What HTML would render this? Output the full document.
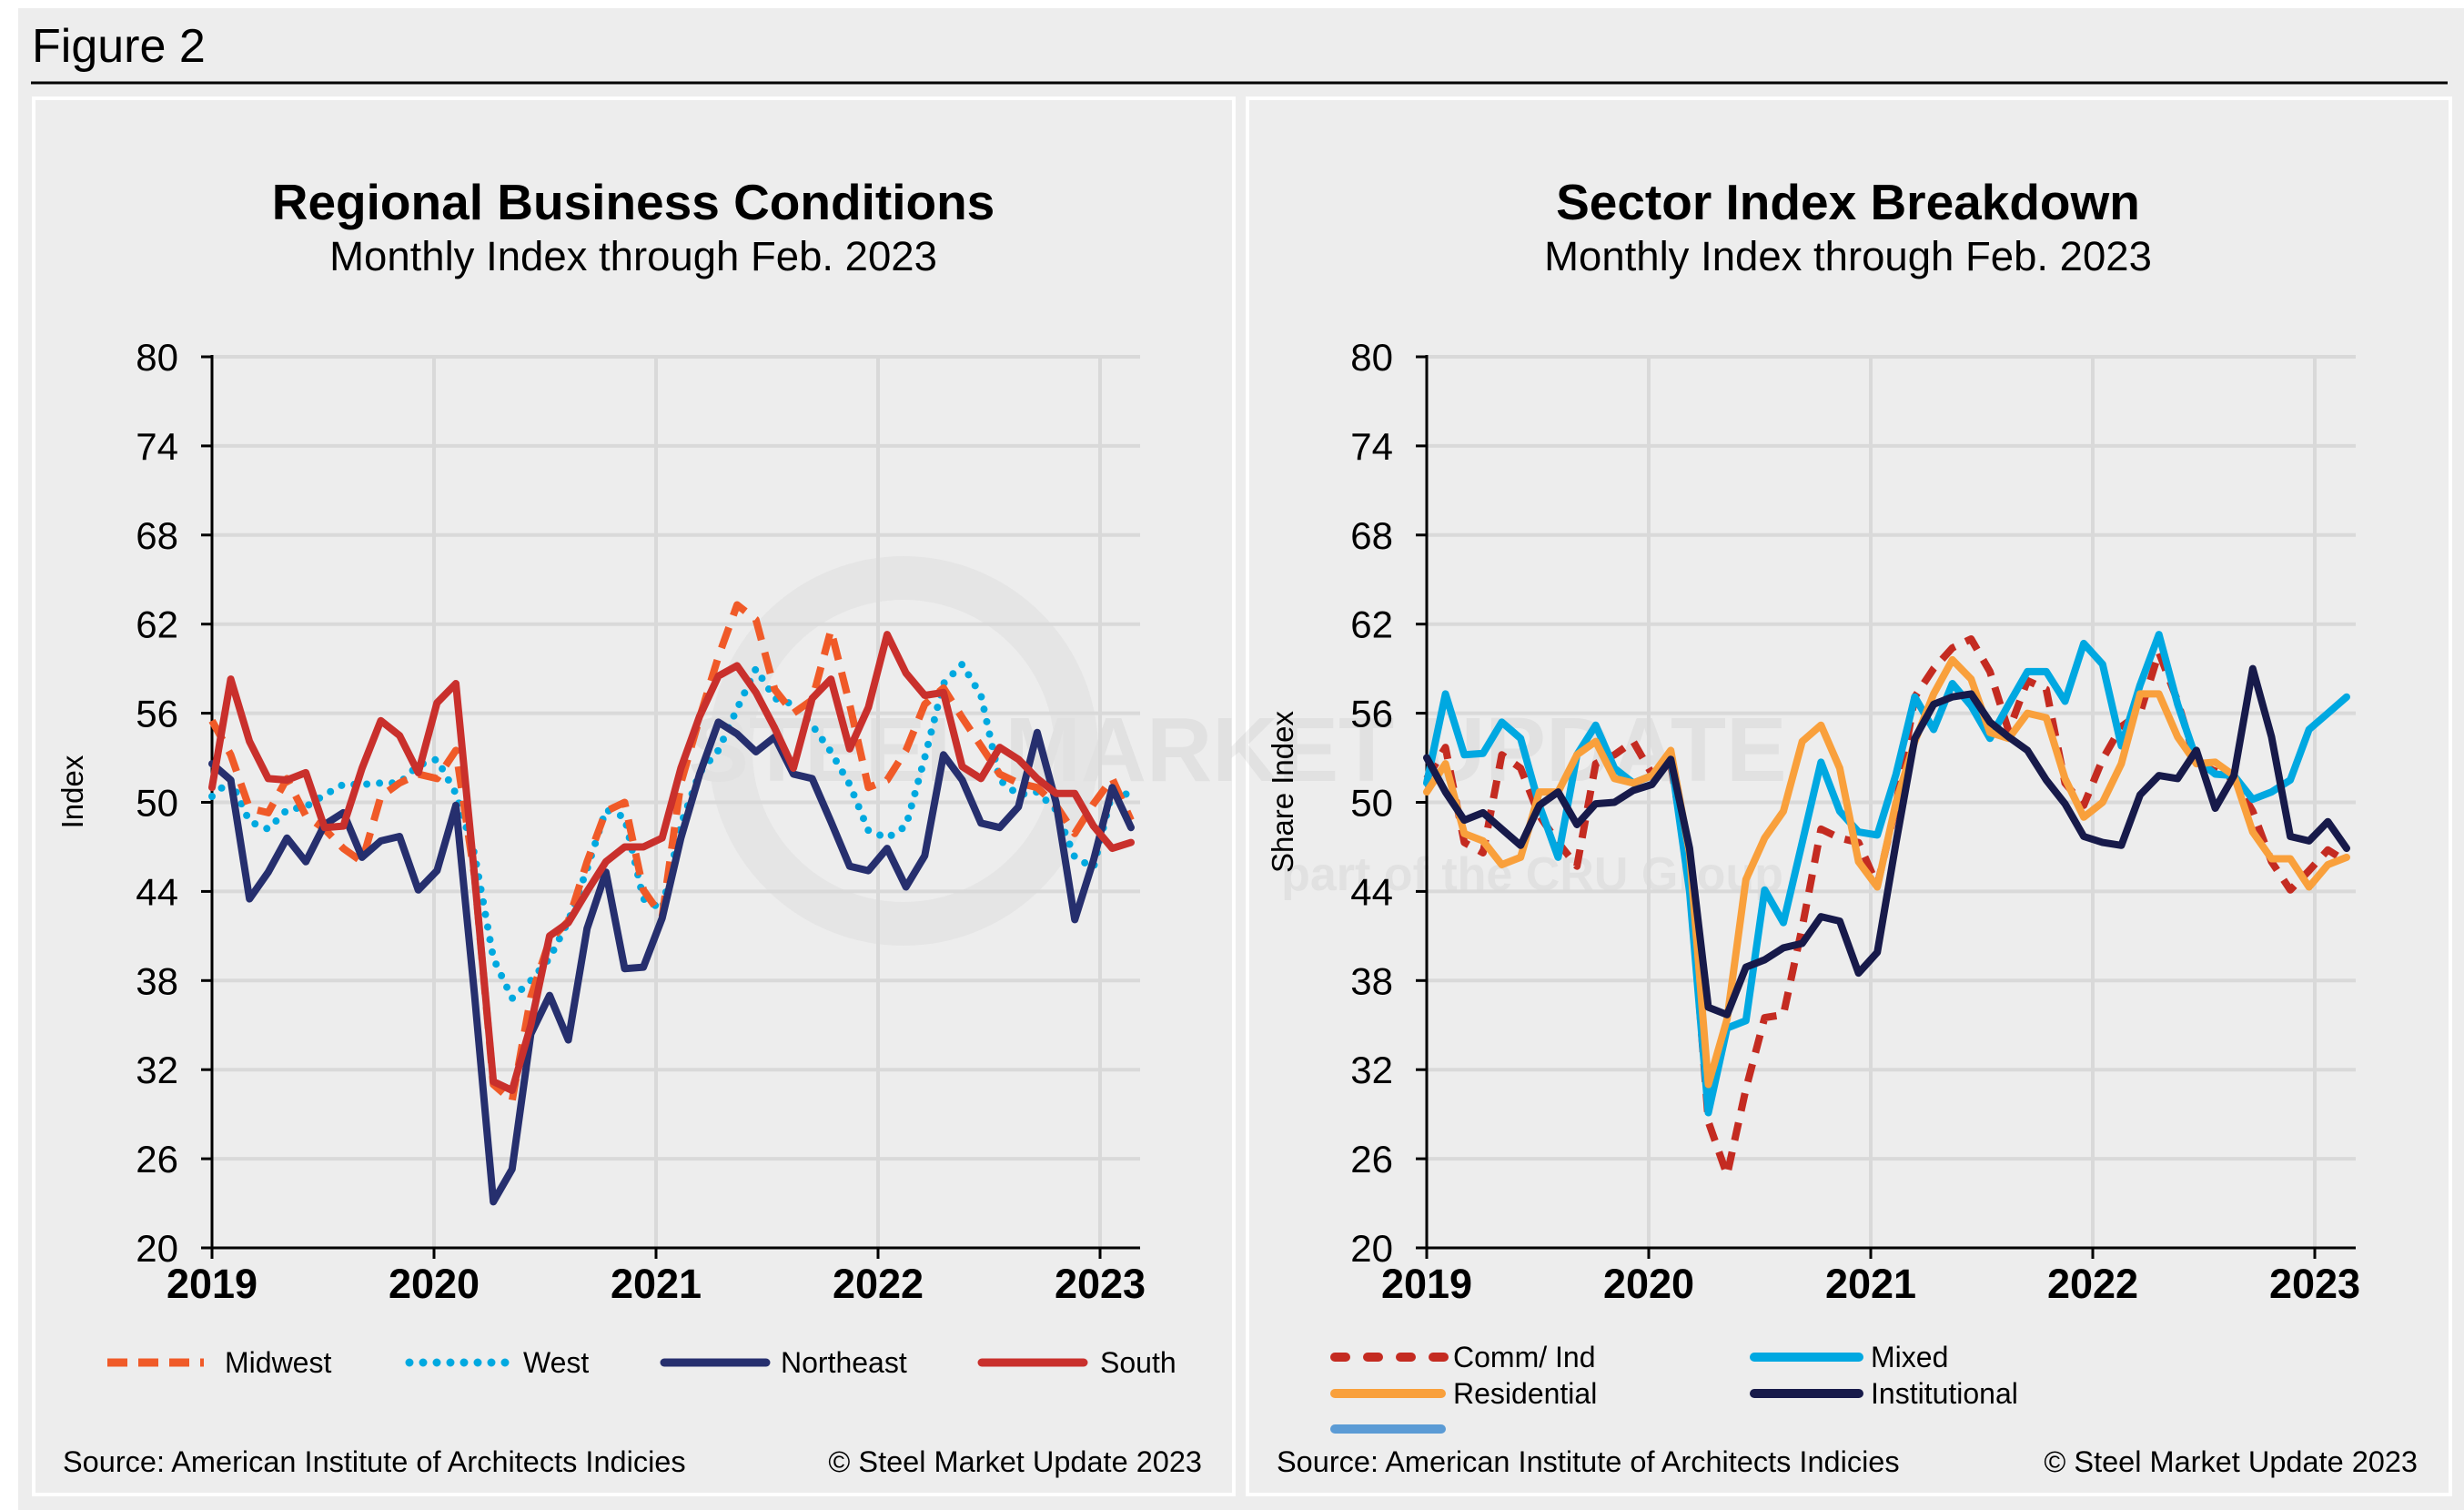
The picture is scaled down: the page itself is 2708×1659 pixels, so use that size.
<!DOCTYPE html>
<html><head><meta charset="utf-8"><style>
html,body{margin:0;padding:0;background:#fff;}
svg{display:block;font-family:"Liberation Sans",Arial,sans-serif;}
</style></head><body>
<svg id="fig" width="2708" height="1659" viewBox="0 0 2708 1659" xmlns="http://www.w3.org/2000/svg">
<rect x="20" y="9" width="2688" height="1650" fill="#ededed"/>
<text x="35" y="68" font-size="52" fill="#000">Figure 2</text>
<line x1="34" y1="91" x2="2690" y2="91" stroke="#000" stroke-width="3"/>
<rect x="37" y="108" width="1319" height="1534" fill="#ededed" stroke="#fff" stroke-width="4"/>
<rect x="1371" y="108" width="1322" height="1534" fill="#ededed" stroke="#fff" stroke-width="4"/>
<g opacity="0.15">
<circle cx="993" cy="825" r="190" fill="none" stroke="#bdbdbd" stroke-width="48"/>
<text x="1360" y="858" font-size="100" text-anchor="middle" fill="#a0a0a0" font-weight="bold">STEEL MARKET UPDATE</text>
<text x="1684" y="978" font-size="52" text-anchor="middle" fill="#a0a0a0" font-weight="bold">part of the CRU Group</text>
</g>
<text x="696" y="241" font-size="55" font-weight="bold" text-anchor="middle">Regional Business Conditions</text>
<text x="696" y="297" font-size="45.5" text-anchor="middle">Monthly Index through Feb. 2023</text>
<text x="2031" y="241" font-size="55" font-weight="bold" text-anchor="middle">Sector Index Breakdown</text>
<text x="2031" y="297" font-size="45.5" text-anchor="middle">Monthly Index through Feb. 2023</text>
<text transform="translate(91,870) rotate(-90)" font-size="33" text-anchor="middle">Index</text>
<text transform="translate(1421,870) rotate(-90)" font-size="33" text-anchor="middle">Share Index</text>
<g id="left"></g>
<g id="right"></g>
<g>
<line x1="118" y1="1497" x2="224" y2="1497" stroke="#f05a28" stroke-width="9" stroke-dasharray="22 12"/>
<text x="247" y="1508" font-size="32">Midwest</text>
<line x1="450" y1="1497" x2="558" y2="1497" stroke="#00a9e0" stroke-width="9" stroke-linecap="round" stroke-dasharray="0 15"/>
<text x="575" y="1508" font-size="32">West</text>
<line x1="730" y1="1497" x2="842" y2="1497" stroke="#262f6e" stroke-width="9" stroke-linecap="round"/>
<text x="858" y="1508" font-size="32">Northeast</text>
<line x1="1079" y1="1497" x2="1191" y2="1497" stroke="#c9302c" stroke-width="9" stroke-linecap="round"/>
<text x="1209" y="1508" font-size="32">South</text>
</g>
<g>
<line x1="1467" y1="1491" x2="1588" y2="1491" stroke="#c42b21" stroke-width="10" stroke-linecap="round" stroke-dasharray="12 24"/>
<text x="1597" y="1502" font-size="32">Comm/ Ind</text>
<line x1="1928" y1="1491" x2="2043" y2="1491" stroke="#00a8e1" stroke-width="10" stroke-linecap="round"/>
<text x="2056" y="1502" font-size="32">Mixed</text>
<line x1="1467" y1="1531" x2="1584" y2="1531" stroke="#f9a03c" stroke-width="10" stroke-linecap="round"/>
<text x="1597" y="1542" font-size="32">Residential</text>
<line x1="1928" y1="1531" x2="2043" y2="1531" stroke="#171a4a" stroke-width="10" stroke-linecap="round"/>
<text x="2056" y="1542" font-size="32">Institutional</text>
<line x1="1467" y1="1570" x2="1584" y2="1570" stroke="#5b9bd5" stroke-width="10" stroke-linecap="round"/>
</g>
<text x="69" y="1617" font-size="32.5">Source: American Institute of Architects Indicies</text>
<text x="1321" y="1617" font-size="32.5" text-anchor="end">© Steel Market Update 2023</text>
<text x="1403" y="1617" font-size="32.5">Source: American Institute of Architects Indicies</text>
<text x="2657" y="1617" font-size="32.5" text-anchor="end">© Steel Market Update 2023</text>
</svg>
<script>
const yTicks = [20, 26, 32, 38, 44, 50, 56, 62, 68, 74, 80];
const yearLabels = ["2019", "2020", "2021", "2022", "2023"];
const midwest = [55.5,53.2,49.6,49.3,51.6,49.1,48.2,46.9,46,50.4,51.3,51.9,51.6,53.5,45,31,29.9,36.9,40.7,42,46,49.4,50,44.1,42.3,51.3,55.7,59.8,63.3,62.3,57.6,56,56.9,61.6,56.6,51,51.5,53.5,56.6,57.7,55.7,53.8,51.9,51.3,51,49.8,47.9,49.9,51.6,48.8];
const west = [50.4,51.5,48.7,48.2,49.5,49.7,50.5,51.2,51.2,51.3,51.3,52.5,52.9,50.6,46.5,39.5,36.8,38,39.5,42,45.5,49.5,49,43.5,42.8,48.5,52,53.5,56.3,59,57,56.6,55.2,53.4,51.2,48.1,47.6,48.4,53,58,59.3,57.2,51.5,50.5,50.7,49.5,46.3,45.6,50.7,50.5];
const northeast = [52.6,51.5,43.5,45.3,47.6,46,48.5,49.3,46.3,47.4,47.7,44.1,45.4,49.8,37,23.1,25.3,34.4,37,34,41.5,45.3,38.8,38.9,42.2,47.6,51.9,55.4,54.6,53.4,54.4,51.9,51.6,48.7,45.7,45.4,46.9,44.3,46.4,53.2,51.5,48.6,48.3,49.7,54.7,50,42.1,46.1,51,48.3];
const south = [51,58.3,54.1,51.6,51.5,52,48.3,48.4,52.3,55.5,54.5,52,56.7,58,45,31.2,30.6,35,41,41.9,44,46,47,47,47.6,52.3,55.8,58.5,59.2,57.4,55,52.3,57,58.3,53.6,56.4,61.3,58.7,57.2,57.4,52.4,51.6,53.7,52.9,51.6,50.6,50.6,48.4,46.9,47.3];
const commInd = [51.6,53.7,47.3,46.6,53.2,52.3,49.1,47.3,45.7,52.6,53.2,54.1,51.9,52.6,45,28.5,24.9,30.7,35.5,35.7,41.6,48.2,47.6,47.3,44.4,49.8,57.1,59,60.4,61,58.8,54.8,58.2,57.6,51.3,49.8,52.9,55.1,56,60.1,56.8,52.6,52.1,51.6,49.4,46,44.1,45.4,46.8,46];
const mixed = [51.3,57.3,53.2,53.3,55.4,54.3,49.8,46.3,53.2,55.2,52.3,51.3,51.8,53,44,29.1,34.8,35.3,44.1,41.9,47.3,52.7,49.4,48,47.8,51.9,57.1,54.9,58,56.5,54.3,56.6,58.8,58.8,56.8,60.7,59.3,53.8,57.9,61.3,56.6,52.9,51.9,51.8,50.2,50.7,51.5,54.9,56,57.1];
const residential = [50.7,52.6,47.9,47.4,45.8,46.3,50.7,50.7,53.2,54.1,51.6,51.3,51.8,53.5,46.6,31,35.4,44.8,47.6,49.4,54.1,55.2,52.3,46,44.3,50,54.1,57.3,59.6,58.3,54.7,54.3,56,55.7,51.6,49,50,52.6,57.3,57.3,54.4,52.6,52.7,51.8,48,46.2,46.2,44.3,45.8,46.3];
const institutional = [53,50.7,48.8,49.3,48.2,47.1,49.8,50.7,48.5,49.9,50,50.8,51.2,52.9,46.9,36.2,35.7,38.9,39.4,40.2,40.5,42.3,42,38.5,39.9,47.3,54.3,56.6,57.1,57.3,55.4,54.4,53.5,51.5,49.9,47.7,47.3,47.1,50.5,51.8,51.6,53.5,49.6,51.8,59,54.4,47.7,47.4,48.7,46.9];

const NS = "http://www.w3.org/2000/svg";
function mk(tag, attrs, parent) {
  const e = document.createElementNS(NS, tag);
  for (const k in attrs) e.setAttribute(k, attrs[k]);
  parent.appendChild(e);
  return e;
}
function drawChart(gid, x0, xEnd, series, prefix) {
  const g = document.getElementById(gid);
  const yTop = 392, yBot = 1371, yMin = 20, yMax = 80;
  const perYear = 244;
  const yS = v => yBot - (v - yMin) / (yMax - yMin) * (yBot - yTop);
  const n = series[0].vals.length;
  const xS = i => x0 + i * (xEnd - x0) / (n - 1);
  const plotRight = xEnd + 10;
  yTicks.forEach(t => {
    if (t > yMin) {
      const gl = mk("line", {x1: x0, x2: plotRight, y1: yS(t), y2: yS(t), stroke: "#d9d9d9", "stroke-width": 4}, g);
      
      
    }
    const tk = mk("line", {x1: x0 - 12, x2: x0, y1: yS(t), y2: yS(t), stroke: "#000", "stroke-width": 3}, g);
    
    
    const lb = mk("text", {x: x0 - 37, y: yS(t) + 15, "font-size": 42, "text-anchor": "end"}, g);
    lb.textContent = t;
    
    
  });
  yearLabels.forEach((yl, k) => {
    const x = x0 + k * perYear;
    if (k > 0) {
      const gl = mk("line", {x1: x, x2: x, y1: yTop, y2: yBot, stroke: "#d9d9d9", "stroke-width": 4}, g);
      
      
    }
    const tk = mk("line", {x1: x, x2: x, y1: yBot, y2: yBot + 12, stroke: "#000", "stroke-width": 3}, g);
    
    
    const lb = mk("text", {x: x, y: 1426, "font-size": 45, "font-weight": "bold", "text-anchor": "middle"}, g);
    lb.textContent = yl;
    
    
  });
  const ax = mk("line", {x1: x0, x2: x0, y1: yTop - 2, y2: yBot, stroke: "#000", "stroke-width": 3}, g);
  
  
  const axx = mk("line", {x1: x0 - 12, x2: plotRight, y1: yBot, y2: yBot, stroke: "#000", "stroke-width": 3}, g);
  
  
  series.forEach(s => {
    const pts = s.vals.map((v, i) => xS(i).toFixed(1) + "," + yS(v).toFixed(1)).join(" ");
    const a = {points: pts, fill: "none", stroke: s.color, "stroke-width": 8, "stroke-linejoin": "round", "stroke-linecap": s.cap || "butt"};
    if (s.dash) a["stroke-dasharray"] = s.dash;
    const pl = mk("polyline", a, g);
    
    
  });
}
drawChart("left", 233, 1243, [
  {name: "west", vals: west, color: "#00a9e0", dash: "0 14", cap: "round"},
  {name: "midwest", vals: midwest, color: "#f05a28", dash: "24 14"},
  {name: "northeast", vals: northeast, color: "#262f6e", cap: "round"},
  {name: "south", vals: south, color: "#c9302c", cap: "round"}
], "left");
drawChart("right", 1568, 2579, [
  {name: "comm-ind", vals: commInd, color: "#c42b21", dash: "20 13"},
  {name: "mixed", vals: mixed, color: "#00a8e1", cap: "round"},
  {name: "residential", vals: residential, color: "#f9a03c", cap: "round"},
  {name: "institutional", vals: institutional, color: "#171a4a", cap: "round"}
], "right");
</script>
</body></html>
